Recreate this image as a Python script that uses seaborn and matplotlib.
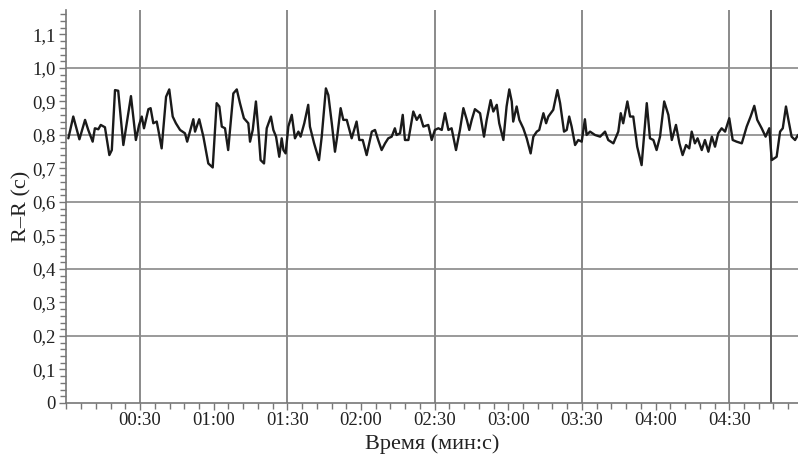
import matplotlib
matplotlib.use("Agg")
import matplotlib.pyplot as plt
from matplotlib.ticker import FixedLocator, MultipleLocator, FuncFormatter
import seaborn as sns
import pandas as pd

# time in seconds
times = [0.8, 2.8, 5.3, 7.6, 8.9, 10.7, 11.6, 13.0, 14.0, 15.7, 17.5, 18.5, 19.8, 21.1, 23.2,
         26.3, 28.3, 29.6, 30.7, 31.6, 33.4, 34.3, 35.4, 36.8, 37.7, 38.8, 40.6, 41.9, 43.3,
         44.6, 46.3, 48.3, 49.2, 51.7, 52.4, 54.1, 55.8, 57.8, 59.6, 61.2, 62.3, 63.3, 64.6,
         65.9, 68.0, 69.4, 70.7, 72.3,
         74.1, 74.8, 75.9, 77.2, 78.2, 79.1, 80.5, 81.6, 83.3, 84.3, 85.4, 86.7, 87.7, 88.4,
         89.3, 90.4, 91.8, 93.1, 94.5, 95.4, 96.9, 98.5, 99.2, 100.9, 102.9, 104.0, 105.7,
         106.7, 108.1, 109.4, 110.3, 111.7, 112.8, 114.2, 116.2, 118.2, 119.3, 120.7, 122.3,
         124.4, 125.7, 127.0, 128.4, 129.8, 131.1, 132.5, 133.8, 134.5, 135.9, 137.0, 137.9,
         139.3, 141.3, 142.7, 144.0, 145.4,
         147.4, 148.8, 150.1, 151.5, 152.9, 154.2, 155.6, 156.9, 158.7, 160.3, 161.7, 163.1,
         164.1, 165.1, 166.4, 168.5, 170.1, 171.2, 172.8, 173.9, 175.3, 176.3, 178.0, 179.3,
         180.4, 181.4, 182.0, 183.4, 184.5, 186.1, 187.5, 189.1, 190.2, 191.6, 192.6, 194.3,
         195.4, 196.3, 198.3, 200.0, 201.1, 202.7, 203.8, 204.8, 205.8, 207.2, 208.5, 209.9,
         211.2, 211.9, 213.3, 215.3,
         217.4, 219.4, 220.7, 222.8, 224.8, 225.8, 226.8, 228.5, 229.6, 230.9, 232.5, 234.3,
         236.4, 237.7, 239.1, 240.4, 241.8, 243.5, 245.2, 246.6, 248.3, 249.7, 251.0, 252.4,
         253.7, 254.7, 256.0, 257.1, 258.8, 260.1, 261.5, 262.9, 264.2, 265.5, 266.9, 268.3,
         270.0, 271.4, 273.0, 275.1, 277.1, 278.7, 280.2, 281.4, 283.2, 284.8, 286.3, 287.3,
         289.3, 290.7, 291.8, 293.1, 294.1, 295.4, 296.8, 298.0]

rr = [0.790, 0.855, 0.787, 0.845, 0.815, 0.780, 0.820, 0.817, 0.830, 0.823, 0.740, 0.755, 0.934, 0.932, 0.770,
      0.916, 0.785, 0.830, 0.855, 0.820, 0.877, 0.880, 0.835, 0.840, 0.805, 0.760, 0.914, 0.936, 0.855,
      0.835, 0.815, 0.805, 0.780, 0.847, 0.810, 0.847, 0.795, 0.715, 0.703, 0.895, 0.885, 0.825, 0.820,
      0.755, 0.924, 0.936, 0.895, 0.850,
      0.835, 0.780, 0.815, 0.900, 0.815, 0.725, 0.715, 0.820, 0.855, 0.815, 0.795, 0.735, 0.790, 0.755,
      0.745, 0.825, 0.860, 0.790, 0.810, 0.795, 0.835, 0.890, 0.825, 0.775, 0.725, 0.795, 0.939,
      0.919, 0.835, 0.750, 0.795, 0.880, 0.845, 0.845, 0.790, 0.840, 0.785, 0.785, 0.740,
      0.810, 0.815, 0.785, 0.755, 0.775, 0.790, 0.795, 0.820, 0.800, 0.805, 0.860, 0.785,
      0.785, 0.870, 0.845, 0.860, 0.825,
      0.830, 0.785, 0.815, 0.820, 0.815, 0.865, 0.815, 0.820, 0.755, 0.815, 0.880, 0.845,
      0.815, 0.845, 0.877, 0.865, 0.795, 0.845, 0.904, 0.870, 0.890, 0.835, 0.785, 0.885,
      0.936, 0.900, 0.840, 0.885, 0.845, 0.820, 0.790, 0.745, 0.795, 0.810, 0.815, 0.865,
      0.835, 0.855, 0.875, 0.934, 0.895, 0.810, 0.815, 0.855, 0.825, 0.770, 0.785, 0.780,
      0.847, 0.800, 0.810, 0.800,
      0.795, 0.810, 0.785, 0.775, 0.810, 0.865, 0.835, 0.900, 0.855, 0.855, 0.765, 0.710,
      0.895, 0.790, 0.785, 0.755, 0.795, 0.900, 0.860, 0.785, 0.830, 0.775, 0.740, 0.770,
      0.760, 0.810, 0.775, 0.790, 0.755, 0.785, 0.750, 0.795, 0.765, 0.805, 0.820, 0.810,
      0.850, 0.785, 0.780, 0.775, 0.825, 0.855, 0.887, 0.845, 0.820, 0.795, 0.820, 0.725,
      0.735, 0.810, 0.820, 0.885, 0.845, 0.795, 0.785, 0.800]

x_major = [30, 60, 90, 120, 150, 180, 210, 240, 270]
x_labels = ["00:30", "01:00", "01:30", "02:00", "02:30", "03:00", "03:30", "04:00", "04:30"]
v_lines = [30, 90, 150, 210, 270]
marker_line = 287.0
h_lines = [0.2, 0.4, 0.6, 0.8, 1.0]

sns.set_style("white")
plt.rcParams["font.family"] = ["Liberation Serif", "DejaVu Serif"]

fig = plt.figure(figsize=(7.98, 4.55), dpi=100)
ax = fig.add_axes([0.0832, 0.1143, 0.9168, 0.8637])

for v in h_lines:
    ax.axhline(v, color="#9a9a9a", lw=1.4, zorder=1)
for v in v_lines:
    ax.axvline(v, color="#8a8a8a", lw=1.4, zorder=1)
ax.axvline(marker_line, color="#606060", lw=1.4, zorder=1)

df = pd.DataFrame({"t": times, "rr": rr})
sns.lineplot(data=df, x="t", y="rr", ax=ax, color="#1a1a1a", lw=1.7, zorder=3)

ax.set_xlim(0, 298)
ax.set_ylim(0, 1.173)

ax.xaxis.set_major_locator(FixedLocator(x_major))
ax.set_xticklabels(x_labels)
ax.xaxis.set_minor_locator(MultipleLocator(6))
ax.yaxis.set_major_locator(MultipleLocator(0.1))
ax.yaxis.set_minor_locator(MultipleLocator(0.02))
ax.yaxis.set_major_formatter(FuncFormatter(lambda v, p: "0" if abs(v) < 1e-9 else f"{v:.1f}".replace(".", ",")))

ax.tick_params(axis="both", which="major", direction="out", length=5, width=1, color="#777777",
               labelsize=13.5, labelcolor="#222222", bottom=True, left=True, pad=3)
ax.tick_params(axis="both", which="minor", direction="out", length=4, width=1, color="#777777",
               bottom=True, left=True)
ax.tick_params(axis="x", which="major", pad=1.5)

for s in ["top", "right"]:
    ax.spines[s].set_visible(False)
for s in ["left", "bottom"]:
    ax.spines[s].set_color("#777777")
    ax.spines[s].set_linewidth(1.2)

ax.set_xlabel("Время (мин:с)", fontsize=16, color="#222222", labelpad=3.5)
ax.set_ylabel("R–R (с)", fontsize=16, color="#222222", labelpad=0)

fig.savefig("out.png", dpi=100)
